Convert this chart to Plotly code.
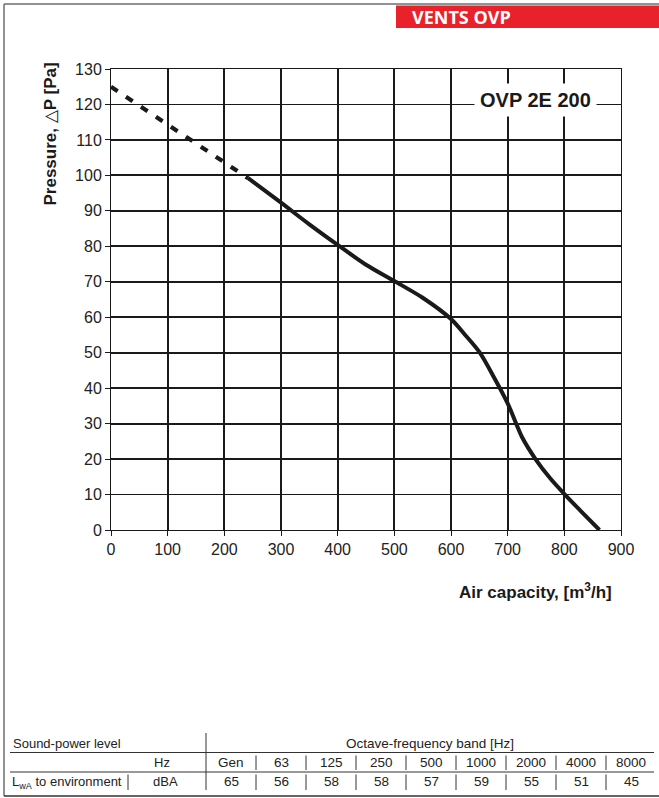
import plotly.graph_objects as go

# ---------------- data ----------------
dash_x = [0, 50, 100, 150, 200, 242]
dash_y = [125, 119.6, 114.2, 108.9, 103.6, 99.2]

solid_x = [242, 300, 350, 400, 450, 500, 550, 600, 625, 650, 675, 700, 715, 725, 750, 775, 801, 830, 862]
solid_y = [99.2, 92.3, 86.2, 80.4, 74.8, 70.2, 65.5, 59.5, 55.0, 50.2, 43.3, 35.7, 30.0, 26.3, 19.8, 14.6, 10.0, 5.2, 0.0]

x_ticks = list(range(0, 901, 100))
y_ticks = list(range(0, 131, 10))

bands = ["Gen", "63", "125", "250", "500", "1000", "2000", "4000", "8000"]
lwa = [65, 56, 58, 58, 57, 59, 55, 51, 45]

model_name = "OVP 2E 200"
header_text = "VENTS OVP"

# ---------------- geometry helpers (pixel -> paper) ----------------
W, H = 659, 798
L, R, T, B = 111, 621, 69, 530


def xp(px):
    return (px - L) / (R - L)


def yp(py):
    return (B - py) / (B - T)


FONT = "Liberation Sans, Arial, sans-serif"
INK = "#1a1a1a"

fig = go.Figure()
fig.add_trace(go.Scatter(x=dash_x, y=dash_y, mode="lines",
                         line=dict(color=INK, width=4.2, dash="8px,10px"),
                         hoverinfo="skip", showlegend=False))
fig.add_trace(go.Scatter(x=solid_x, y=solid_y, mode="lines",
                         line=dict(color=INK, width=4, shape="spline", smoothing=0.8),
                         hoverinfo="skip", showlegend=False))

axis_common = dict(showgrid=True, gridcolor=INK, gridwidth=1.8, zeroline=False,
                   showline=True, mirror=True, linecolor=INK, linewidth=1,
                   ticks="outside", ticklen=5, tickwidth=1, tickcolor=INK,
                   tickfont=dict(family=FONT, size=16, color="#222"))

fig.update_xaxes(range=[0, 900], tickvals=x_ticks, ticktext=[str(v) for v in x_ticks], **axis_common)
fig.update_yaxes(range=[0, 130], tickvals=y_ticks, ticktext=[str(v) for v in y_ticks], **axis_common)

shapes = []
annotations = []

# outer frame (left, top, bottom)
frame_col = "#6e6e6e"
shapes.append(dict(type="line", xref="paper", yref="paper", x0=xp(4), x1=xp(4), y0=yp(4), y1=yp(796),
                   line=dict(color=frame_col, width=1.5)))
shapes.append(dict(type="line", xref="paper", yref="paper", x0=xp(4), x1=xp(659), y0=yp(4), y1=yp(4),
                   line=dict(color=frame_col, width=1.5)))
shapes.append(dict(type="line", xref="paper", yref="paper", x0=xp(4), x1=xp(659), y0=yp(796), y1=yp(796),
                   line=dict(color="#333", width=1.5)))

# red header
shapes.append(dict(type="rect", xref="paper", yref="paper", x0=xp(396), x1=xp(659), y0=yp(5.5), y1=yp(28),
                   fillcolor="#e8212a", line=dict(width=0)))
annotations.append(dict(text="<b>" + header_text + "</b>", xref="paper", yref="paper",
                        x=xp(410), y=yp(17), xanchor="left", yanchor="middle", showarrow=False,
                        font=dict(family="Open Sans, sans-serif", size=18, color="white")))

# model label on the chart
annotations.append(dict(text="<b>" + model_name + "</b>", xref="paper", yref="paper",
                        x=xp(535), y=yp(100), xanchor="center", yanchor="middle", showarrow=False,
                        bgcolor="white", borderpad=5,
                        font=dict(family=FONT, size=20, color=INK)))

# axis titles
annotations.append(dict(text="<b>Air capacity, [m<sup>3</sup>/h]</b>", xref="paper", yref="paper",
                        x=xp(614), y=yp(591), xanchor="right", yanchor="middle", showarrow=False,
                        font=dict(family=FONT, size=17, color=INK)))
annotations.append(dict(text="<b>Pressure, </b>\u25b3<b>P [Pa]</b>", xref="paper", yref="paper",
                        x=xp(50), y=yp(61), xanchor="center", yanchor="top", textangle=-90, showarrow=False,
                        font=dict(family=FONT, size=17, color=INK)))

# ---------------- sound table ----------------
tfont = dict(family=FONT, size=13, color="#222")
line_col = "#333"
# horizontal rules
for yy in (752.5, 772):
    shapes.append(dict(type="line", xref="paper", yref="paper", x0=xp(10), x1=xp(654), y0=yp(yy), y1=yp(yy),
                       line=dict(color=line_col, width=1)))
# main vertical separator
shapes.append(dict(type="line", xref="paper", yref="paper", x0=xp(206), x1=xp(206), y0=yp(733), y1=yp(790),
                   line=dict(color=line_col, width=1)))
# column separators
col_edges = [206 + 50 * i for i in range(len(bands))]
for xe in col_edges[1:]:
    for (ya, yb) in ((755.5, 770), (774.5, 790)):
        shapes.append(dict(type="line", xref="paper", yref="paper", x0=xp(xe), x1=xp(xe), y0=yp(ya), y1=yp(yb),
                           line=dict(color=line_col, width=1)))
shapes.append(dict(type="line", xref="paper", yref="paper", x0=xp(128), x1=xp(128), y0=yp(774.5), y1=yp(790),
                   line=dict(color=line_col, width=1)))

annotations.append(dict(text="Sound-power level", xref="paper", yref="paper", x=xp(11), y=yp(743.5),
                        xanchor="left", yanchor="middle", showarrow=False, font=tfont))
annotations.append(dict(text="Octave-frequency band [Hz]", xref="paper", yref="paper", x=xp(430), y=yp(743.5),
                        xanchor="center", yanchor="middle", showarrow=False, font=dict(tfont, size=13.5)))
annotations.append(dict(text="Hz", xref="paper", yref="paper", x=xp(162), y=yp(762.5),
                        xanchor="center", yanchor="middle", showarrow=False, font=tfont))
annotations.append(dict(text="L<sub>wA</sub> to environment", xref="paper", yref="paper", x=xp(10), y=yp(782),
                        xanchor="left", yanchor="middle", showarrow=False, font=tfont))
annotations.append(dict(text="dBA", xref="paper", yref="paper", x=xp(165), y=yp(781.5),
                        xanchor="center", yanchor="middle", showarrow=False, font=tfont))
for i, (b, v) in enumerate(zip(bands, lwa)):
    cx = col_edges[i] + 25
    annotations.append(dict(text=b, xref="paper", yref="paper", x=xp(cx), y=yp(762.5),
                            xanchor="center", yanchor="middle", showarrow=False, font=dict(tfont, size=13.5)))
    annotations.append(dict(text=str(v), xref="paper", yref="paper", x=xp(cx), y=yp(781.5),
                            xanchor="center", yanchor="middle", showarrow=False, font=dict(tfont, size=13.5)))

fig.update_layout(width=W, height=H, margin=dict(l=L, r=W - R, t=T, b=H - B, autoexpand=False),
                  paper_bgcolor="white", plot_bgcolor="white", showlegend=False,
                  shapes=shapes, annotations=annotations)

fig.write_html("out.html", config={"displayModeBar": False, "staticPlot": True},
               post_script="document.body.style.margin='0';document.body.style.padding='0';"
                           "document.body.style.overflow='hidden';")
